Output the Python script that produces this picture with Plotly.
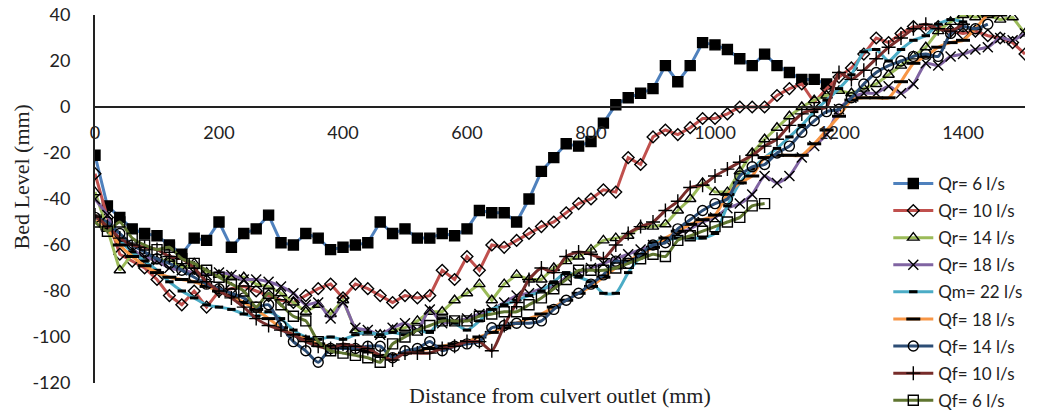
import plotly.graph_objects as go

# Distances (mm) — every 20 mm from the culvert outlet
dist_qr6 = list(range(0, 1181, 20))
dist_full = list(range(0, 1501, 20))
dist_qm22 = list(range(0, 1401, 20))
dist_qf18 = list(range(0, 1461, 20))
dist_qf14 = list(range(0, 1441, 20))
dist_qf10 = list(range(0, 1401, 20))
dist_qf6 = list(range(0, 1081, 20))

qr6 = [-21, -43, -48, -53, -55, -56, -60, -64, -57, -58, -50, -61, -55, -53, -47, -59, -60, -55, -57, -62,
       -61, -60, -59, -50, -55, -53, -57, -57, -55, -56, -53, -45, -46, -46, -50, -40, -28, -22, -16, -17,
       -15, -7, 1, 4, 6, 8, 18, 11, 18, 28, 27, 25, 21, 18, 23, 18, 15, 12, 12, 10]

qr10 = [-29, -48, -64, -67, -70, -75, -82, -86, -80, -87, -80, -79, -78, -80, -82, -84, -85, -82, -79, -77,
        -83, -77, -79, -82, -85, -82, -83, -82, -71, -75, -65, -71, -60, -61, -58, -55, -52, -50, -46, -42,
        -40, -36, -37, -22, -25, -13, -10, -12, -9, -5, -5, -3, 0, 0, 0, 5, 8, 10, 2, 8,
        13, 17, 23, 30, 28, 32, 35, 34, 35, 33, 32, 33, 31, 30, 28, 23]

qr14 = [-37, -53, -71, -64, -65, -67, -66, -70, -68, -72, -73, -74, -74, -77, -78, -81, -85, -89, -86, -90,
        -84, -97, -98, -99, -97, -96, -93, -89, -89, -84, -81, -77, -84, -77, -73, -75, -75, -70, -67, -65,
        -62, -58, -57, -56, -52, -52, -51, -45, -40, -33, -37, -37, -28, -20, -14, -9, -4, 0, 3, 5,
        7, 6, 8, 10, 14, 18, 22, 26, 33, 37, 40, 39, 40, 38, 39, 32]

qr18 = [-40, -47, -58, -62, -65, -67, -70, -71, -72, -73, -72, -73, -75, -75, -76, -78, -81, -86, -85, -92,
        -85, -96, -97, -99, -96, -94, -97, -88, -94, -93, -92, -90, -88, -85, -82, -81, -79, -78, -74, -72,
        -70, -68, -66, -64, -62, -60, -58, -55, -53, -50, -48, -44, -42, -38, -30, -33, -30, -22, -17, -12,
        -1, 4, 6, 6, 9, 6, 10, 19, 18, 22, 23, 25, 26, 30, 29, 32]

qm22 = [-48, -52, -58, -63, -67, -71, -76, -80, -83, -86, -87, -88, -90, -91, -89, -92, -97, -100, -101, -100,
        -101, -99, -98, -99, -98, -99, -97, -98, -92, -94, -97, -93, -88, -86, -84, -82, -80, -76, -72, -74,
        -76, -81, -81, -72, -65, -59, -58, -57, -57, -57, -55, -43, -33, -27, -22, -18, -13, -8, -2, 3,
        8, 14, 24, 25, 20, 25, 29, 31, 36, 38, 37]

qf18 = [-48, -53, -60, -65, -69, -72, -74, -75, -76, -78, -80, -82, -85, -88, -92, -96, -99, -101, -103, -104,
        -104, -105, -106, -108, -108, -107, -106, -105, -104, -103, -102, -100, -98, -96, -94, -92, -90, -87, -84, -81,
        -78, -74, -70, -67, -64, -61, -57, -54, -51, -49, -47, -38, -33, -30, -22, -21, -21, -21, -16, -10,
        -4, 3, 4, 4, 4, 11, 19, 22, 26, 28, 29, 34, 40, 40]

qf14 = [-48, -50, -55, -60, -63, -66, -68, -71, -74, -77, -79, -81, -83, -87, -86, -95, -102, -106, -111, -105,
        -105, -105, -104, -104, -109, -106, -105, -102, -106, -104, -103, -102, -96, -95, -94, -94, -93, -88, -84, -81,
        -77, -73, -67, -68, -64, -60, -59, -53, -49, -45, -42, -40, -30, -26, -25, -20, -17, -11, -6, -2,
        -1, 4, 10, 15, 18, 20, 22, 23, 22, 32, 35, 34, 36]

qf10 = [-47, -52, -57, -60, -61, -62, -65, -66, -70, -76, -80, -83, -87, -92, -95, -97, -99, -102, -104, -105,
        -103, -104, -105, -108, -110, -107, -107, -107, -105, -104, -102, -102, -106, -95, -85, -75, -70, -72, -65, -63,
        -64, -66, -60, -55, -52, -50, -45, -41, -35, -34, -30, -27, -24, -21, -17, -14, -8, -3, -1, 0,
        15, 12, 16, 21, 26, 30, 34, 36, 34, 33, 36]

qf6 = [-50, -54, -50, -57, -60, -62, -61, -66, -68, -71, -74, -77, -80, -87, -81, -86, -91, -93, -102, -106,
       -107, -108, -109, -111, -103, -100, -97, -95, -93, -93, -93, -91, -90, -89, -89, -86, -83, -79, -75, -71,
       -71, -71, -70, -68, -66, -64, -65, -58, -56, -54, -52, -50, -48, -43, -42]

x_ticks = [0, 200, 400, 600, 800, 1000, 1200, 1400]
y_ticks = [-120, -100, -80, -60, -40, -20, 0, 20, 40]

series = [
    ("Qr= 6 l/s", dist_qr6, qr6, "#4F81BD", "square", 10, "linear"),
    ("Qr= 10 l/s", dist_full, qr10, "#C0504D", "diamond-open", 9, "linear"),
    ("Qr= 14 l/s", dist_full, qr14, "#9BBB59", "triangle-up-open", 10, "linear"),
    ("Qr= 18 l/s", dist_full, qr18, "#8064A2", "x-thin-open", 10, "spline"),
    ("Qm= 22 l/s", dist_qm22, qm22, "#4BACC6", "line-ew-open", 6, "spline"),
    ("Qf= 18 l/s", dist_qf18, qf18, "#F79646", "line-ew-open", 10, "spline"),
    ("Qf= 14 l/s", dist_qf14, qf14, "#2C4D75", "circle-open", 10, "spline"),
    ("Qf= 10 l/s", dist_qf10, qf10, "#772C2A", "cross-thin-open", 10, "spline"),
    ("Qf= 6 l/s", dist_qf6, qf6, "#5F7530", "square-open", 10, "spline"),
]

fig = go.Figure()
for i, (name, xs, ys, color, sym, size, shape) in enumerate(series):
    lw = 3 if sym.startswith("line-ew") else 1.4
    fig.add_trace(go.Scatter(
        x=xs, y=ys, name=name, mode="lines+markers",
        line=dict(color=color, width=3, shape=shape, smoothing=0.6 if shape == "spline" else None),
        marker=dict(symbol=sym, size=size, color="black", line=dict(color="black", width=lw)),
        legendgroup=f"g{i}",
    ))

fig.update_layout(
    width=1045, height=413,
    margin=dict(l=95, r=20, t=15, b=30, autoexpand=False),
    paper_bgcolor="white", plot_bgcolor="white",
    font=dict(family="Lato", size=18, color="#222"),
    showlegend=True,
    legend=dict(
        x=0.853, y=0.59, xanchor="left", yanchor="top",
        bgcolor="rgba(0,0,0,0)", font=dict(family="Lato", size=17, color="#222"),
        itemwidth=40, traceorder="grouped", tracegroupgap=2,
    ),
    xaxis=dict(
        range=[0, 1500], tickvals=x_ticks, ticktext=[str(v) for v in x_ticks],
        anchor="free", position=0.75, showline=True, linecolor="#222", linewidth=1.5,
        showgrid=False, zeroline=False, ticks="", ticklabelstandoff=10, automargin=False,
        tickfont=dict(family="Lato", size=18, color="#222"),
    ),
    yaxis=dict(
        range=[-120, 40], tickvals=y_ticks, ticktext=[str(v) for v in y_ticks],
        showline=True, linecolor="#222", linewidth=2,
        showgrid=False, zeroline=False, ticks="", ticklabelstandoff=19, automargin=False,
        tickfont=dict(family="Lato", size=18, color="#222"),
    ),
    annotations=[
        dict(text="Distance from culvert outlet (mm)", x=0.5, y=-0.035, xref="paper", yref="paper",
             xanchor="center", yanchor="middle", showarrow=False,
             font=dict(family="Liberation Serif", size=22, color="#222")),
        dict(text="Bed Level (mm)", x=-0.079, y=0.56, xref="paper", yref="paper", textangle=-90,
             xanchor="center", yanchor="middle", showarrow=False,
             font=dict(family="Liberation Serif", size=22, color="#222")),
    ],
)

# Remove the default 8 px page margin so the figure fills the window exactly.
fig.write_html("out.html", config={"displayModeBar": False},
               post_script="document.body.style.margin='0px';")
